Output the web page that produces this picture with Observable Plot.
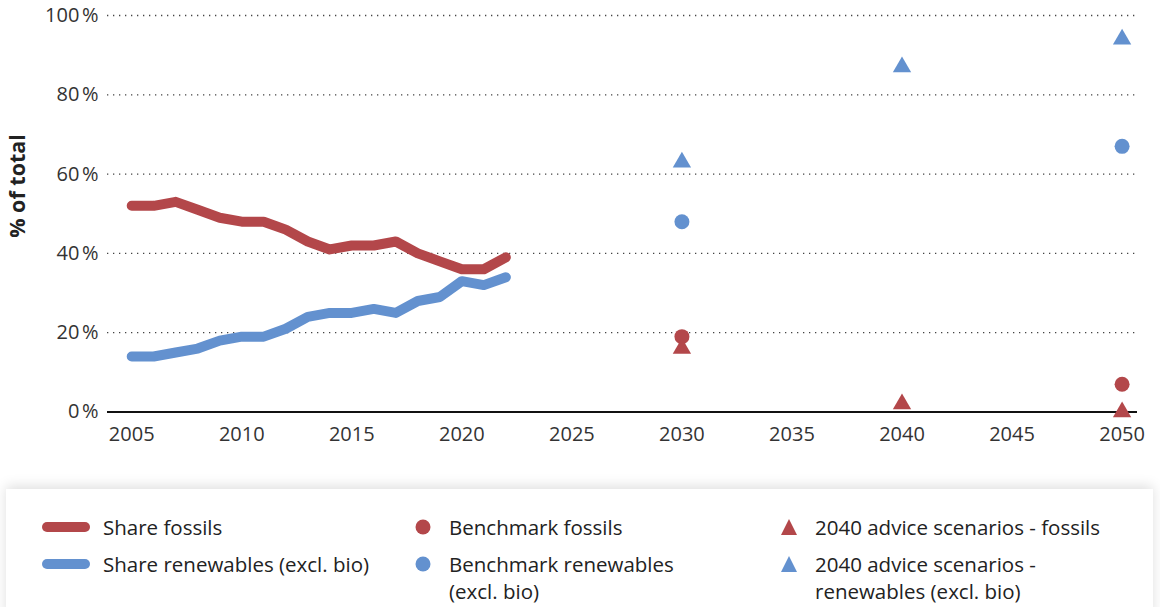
<!DOCTYPE html>
<html>
<head>
<meta charset="utf-8">
<script src="https://cdn.jsdelivr.net/npm/d3@7"></script>
<script src="https://cdn.jsdelivr.net/npm/@observablehq/plot@0.6"></script>
<style>
  html, body { margin: 0; padding: 0; background: #fff; }
  body { width: 1160px; height: 607px; overflow: hidden; font-family: "Open Sans", sans-serif; position: relative; }
  #chart svg { display: block; }
  #legend { position: absolute; left: 6px; top: 489px; width: 1147px; height: 130px; background: #fff;
            box-shadow: 0 -3px 12px rgba(0,0,0,0.13); }
  .item { position: absolute; font-size: 20.5px; color: #222; line-height: 27px; white-space: nowrap; }
  .sw { position: absolute; }
</style>
</head>
<body>
<div id="chart"></div>
<div id="legend"></div>
<script>
const years = [2005,2006,2007,2008,2009,2010,2011,2012,2013,2014,2015,2016,2017,2018,2019,2020,2021,2022];
const shareFossils = [52,52,53,51,49,48,48,46,43,41,42,42,43,40,38,36,36,39];
const shareRenewables = [14,14,15,16,18,19,19,21,24,25,25,26,25,28,29,33,32,34];
const benchmarkYears = [2030, 2050];
const benchmarkFossils = [19, 7];
const benchmarkRenewables = [48, 67];
const adviceYears = [2030, 2040, 2050];
const adviceFossils = [16, 2, 0];
const adviceRenewables = [63, 87, 94];
const xTicks = [2005,2010,2015,2020,2025,2030,2035,2040,2045,2050];
const yTicks = [0,20,40,60,80,100];

const RED = "#b3474a", BLUE = "#6391cf";

const lineF = years.map((y,i) => ({year: y, v: shareFossils[i]}));
const lineR = years.map((y,i) => ({year: y, v: shareRenewables[i]}));
const bF = benchmarkYears.map((y,i) => ({year: y, v: benchmarkFossils[i]}));
const bR = benchmarkYears.map((y,i) => ({year: y, v: benchmarkRenewables[i]}));
const aF = adviceYears.map((y,i) => ({year: y, v: adviceFossils[i]}));
const aR = adviceYears.map((y,i) => ({year: y, v: adviceRenewables[i]}));

const plot = Plot.plot({
  width: 1160,
  height: 480,
  marginLeft: 107,
  marginRight: 23,
  marginTop: 15,
  marginBottom: 68.5,
  style: {fontFamily: "Open Sans, sans-serif", fontSize: "20px", color: "#333", background: "#fff"},
  x: {domain: [2003.9, 2050.7], ticks: xTicks, tickFormat: d => String(d), tickSize: 0, tickPadding: 15, label: null},
  y: {domain: [0, 100], ticks: yTicks, tickFormat: d => d + "\u202F%", tickSize: 0, tickPadding: 9, label: null},
  marks: [
    Plot.ruleY(yTicks.filter(d => d > 0), {stroke: "#444", strokeWidth: 1.3, strokeDasharray: "1.3,4.7"}),
    Plot.ruleY([0], {stroke: "#111", strokeWidth: 2}),
    Plot.line(lineF, {x: "year", y: "v", stroke: RED, strokeWidth: 10, strokeLinecap: "round", strokeLinejoin: "round"}),
    Plot.line(lineR, {x: "year", y: "v", stroke: BLUE, strokeWidth: 10, strokeLinecap: "round", strokeLinejoin: "round"}),
    Plot.dot(bF, {x: "year", y: "v", r: 7.5, fill: RED, stroke: "none"}),
    Plot.dot(bR, {x: "year", y: "v", r: 7.5, fill: BLUE, stroke: "none"}),
    Plot.dot(aF, {x: "year", y: "v", r: 6.8, symbol: "triangle", fill: RED, stroke: "none"}),
    Plot.dot(aR, {x: "year", y: "v", r: 6.8, symbol: "triangle", fill: BLUE, stroke: "none"})
  ]
});
document.getElementById("chart").appendChild(plot);

d3.select(plot).append("text")
  .attr("transform", "translate(25,186) rotate(-90)")
  .attr("text-anchor", "middle")
  .attr("font-family", "Open Sans, sans-serif")
  .attr("font-weight", "bold")
  .attr("font-size", "21.5px")
  .attr("fill", "#222")
  .text("% of total");

// Legend
const legendItems = [
  {type: "line", color: RED, label: "Share fossils", col: 0, row: 0},
  {type: "line", color: BLUE, label: "Share renewables (excl. bio)", col: 0, row: 1},
  {type: "circle", color: RED, label: "Benchmark fossils", col: 1, row: 0},
  {type: "circle", color: BLUE, label: "Benchmark renewables<br>(excl. bio)", col: 1, row: 1},
  {type: "triangle", color: RED, label: "2040 advice scenarios - fossils", col: 2, row: 0},
  {type: "triangle", color: BLUE, label: "2040 advice scenarios -<br>renewables (excl. bio)", col: 2, row: 1}
];
const colText = [97, 443, 809];
const colSw = [58, 417, 783];
const rowY = [38, 75];
const leg = d3.select("#legend");
legendItems.forEach(it => {
  const cy = rowY[it.row];
  leg.append("div").attr("class", "item")
    .style("left", colText[it.col] + "px")
    .style("top", (cy - 13.5) + "px")
    .html(it.label);
  const svg = leg.append("svg").attr("class", "sw")
    .attr("width", 60).attr("height", 20)
    .style("left", (colSw[it.col] - 30) + "px")
    .style("top", (cy - 10) + "px");
  if (it.type === "line") {
    svg.append("line").attr("x1", 13).attr("x2", 51).attr("y1", 10).attr("y2", 10)
      .attr("stroke", it.color).attr("stroke-width", 10).attr("stroke-linecap", "round");
  } else if (it.type === "circle") {
    svg.append("circle").attr("cx", 30).attr("cy", 10).attr("r", 7.5).attr("fill", it.color);
  } else {
    svg.append("path").attr("d", "M30,2 L38,18 L22,18 Z").attr("fill", it.color);
  }
});
</script>
</body>
</html>
